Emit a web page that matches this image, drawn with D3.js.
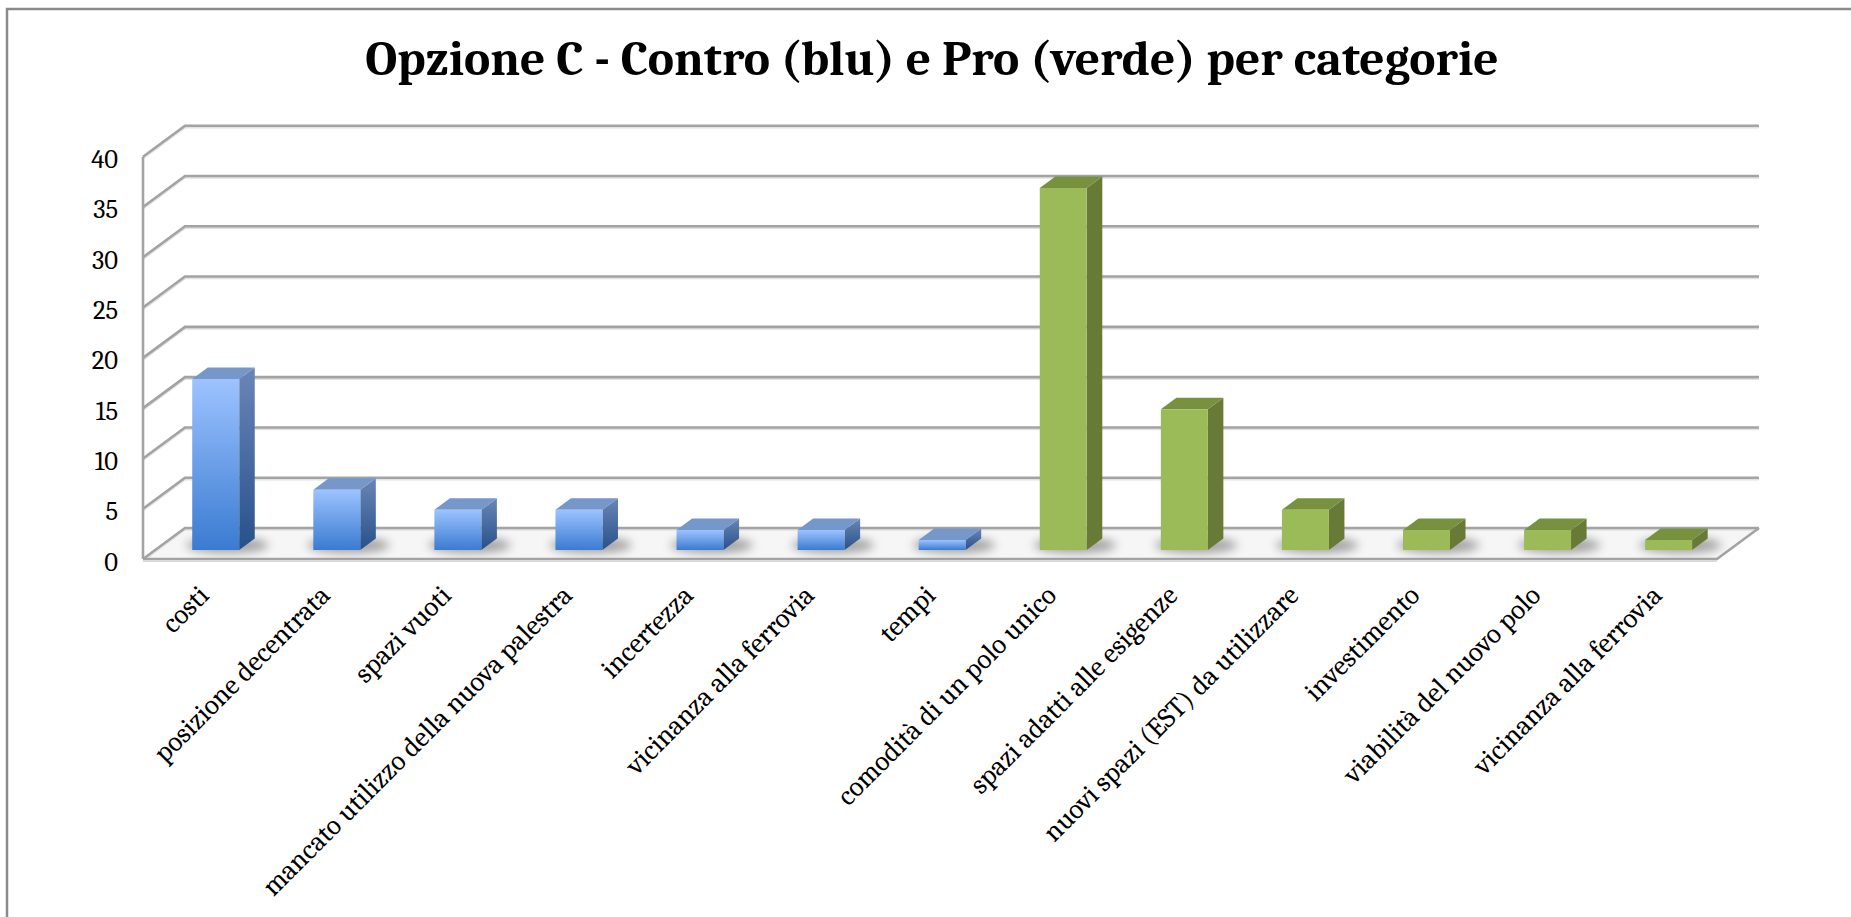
<!DOCTYPE html>
<html>
<head>
<meta charset="utf-8">
<script src="https://cdn.jsdelivr.net/npm/d3@7"></script>
<style>
  html, body { margin: 0; padding: 0; background: #fff; }
  svg { display: block; }
  text { font-family: Cambria, "Liberation Serif", "DejaVu Serif", serif; fill: #000; }
</style>
</head>
<body>
<svg id="chart" width="1851" height="917"></svg>
<script>
const title = "Opzione C - Contro (blu) e Pro (verde) per categorie";
const categories = [
  "costi", "posizione decentrata", "spazi vuoti", "mancato utilizzo della nuova palestra",
  "incertezza", "vicinanza alla ferrovia", "tempi",
  "comodità di un polo unico", "spazi adatti alle esigenze", "nuovi spazi (EST) da utilizzare",
  "investimento", "viabilità del nuovo polo", "vicinanza alla ferrovia "
];
const contro = [17, 6, 4, 4, 2, 2, 1, null, null, null, null, null, null];
const pro    = [null, null, null, null, null, null, null, 36, 14, 4, 2, 2, 1];
const yTicks = [0, 5, 10, 15, 20, 25, 30, 35, 40];

const svg = d3.select("#chart");
const W = 1851, H = 917;

// 3D projection parameters
const DX = 42, DY = -31;          // offset of the back plane
const Z0 = 0.29, Z1 = 0.66;       // bar depth range
const x = d3.scaleBand().domain(d3.range(categories.length)).range([143, 1717]);
const y = d3.scaleLinear().domain([0, 40]).range([559, 156.7]);
const proj = (px, v, z) => [px + z * DX, y(v) + z * DY];
const x0 = x.range()[0], x1 = x.range()[1];
const hw = x.bandwidth() * 0.194;

const defs = svg.append("defs");
const gBlueFront = defs.append("linearGradient").attr("id", "bf").attr("x1", 0).attr("y1", 0).attr("x2", 0).attr("y2", 1);
gBlueFront.append("stop").attr("offset", 0).attr("stop-color", "#9DC3FF");
gBlueFront.append("stop").attr("offset", 1).attr("stop-color", "#3A7BD1");
const gBlueSide = defs.append("linearGradient").attr("id", "bs").attr("x1", 0).attr("y1", 0).attr("x2", 0).attr("y2", 1);
gBlueSide.append("stop").attr("offset", 0).attr("stop-color", "#6A86B6");
gBlueSide.append("stop").attr("offset", 1).attr("stop-color", "#27518A");
const blur = defs.append("filter").attr("id", "blur").attr("x", "-50%").attr("y", "-50%").attr("width", "200%").attr("height", "200%");
blur.append("feGaussianBlur").attr("stdDeviation", 5);
const floorPts = [proj(x0, 0, 0), proj(x0, 0, 1), proj(x1, 0, 1), proj(x1, 0, 0)];
defs.append("clipPath").attr("id", "floorClip").append("polygon").attr("points", floorPts.map(p => p.join(",")).join(" "));

// chart border
svg.append("path").attr("d", `M7,${H} L7,9 L${W},9`).attr("fill", "none").attr("stroke", "#8a8a8a").attr("stroke-width", 2.5);

// title
svg.append("text").attr("x", 932).attr("y", 75).attr("text-anchor", "middle")
  .attr("font-size", 49.5).attr("font-weight", "bold").text(title);

// floor
svg.append("polygon").attr("points", floorPts.map(p => p.join(",")).join(" ")).attr("fill", "#f6f6f6");

// gridlines on walls
const line = d3.line();
const grid = svg.append("g");
yTicks.forEach(t => {
  const pts = [proj(x0, t, 0), proj(x0, t, 1), proj(x1, t, 1)];
  grid.append("path").attr("d", line(pts.map(p => [p[0], p[1] + 1.8]))).attr("fill", "none").attr("stroke", "#e2e2e2").attr("stroke-width", 2);
  grid.append("path").attr("d", line(pts)).attr("fill", "none").attr("stroke", "#a3a3a3").attr("stroke-width", 2.6);
});
// left vertical axis line
grid.append("path").attr("d", line([proj(x0, 0, 0), proj(x0, 40, 0)])).attr("stroke", "#a3a3a3").attr("stroke-width", 2.6);
// right floor edge and front edge
grid.append("path").attr("d", line([proj(x1, 0, 1), proj(x1, 0, 0), proj(x0, 0, 0)])).attr("fill", "none").attr("stroke", "#a3a3a3").attr("stroke-width", 2.6);
grid.append("path").attr("d", line([proj(x0, 0, 0), proj(x1, 0, 0)].map(p => [p[0], p[1] + 2]))).attr("fill", "none").attr("stroke", "#d9d9d9").attr("stroke-width", 2);

// shadows
const shadows = svg.append("g").attr("clip-path", "url(#floorClip)");
categories.forEach((c, i) => {
  const v = contro[i] != null ? contro[i] : pro[i];
  if (v == null) return;
  const cx = x(i) + x.bandwidth() / 2;
  const p = proj(cx, 0, (Z0 + Z1) / 2);
  shadows.append("ellipse").attr("cx", p[0] + 4).attr("cy", p[1] + 1).attr("rx", hw * 1.75).attr("ry", 8)
    .attr("fill", "#606060").attr("opacity", 0.55).attr("filter", "url(#blur)");
});

// bars
function drawBars(values, cls, front, side, top) {
  const g = svg.append("g").attr("class", cls);
  values.forEach((v, i) => {
    if (v == null) return;
    const cx = x(i) + x.bandwidth() / 2;
    const L = cx - hw, R = cx + hw;
    const f = [proj(L, v, Z0), proj(R, v, Z0), proj(R, 0, Z0), proj(L, 0, Z0)];
    const s = [proj(R, v, Z0), proj(R, v, Z1), proj(R, 0, Z1), proj(R, 0, Z0)];
    const t = [proj(L, v, Z0), proj(L, v, Z1), proj(R, v, Z1), proj(R, v, Z0)];
    g.append("polygon").attr("points", s.map(p => p.join(",")).join(" ")).attr("fill", side);
    g.append("polygon").attr("points", t.map(p => p.join(",")).join(" ")).attr("fill", top);
    g.append("polygon").attr("points", f.map(p => p.join(",")).join(" ")).attr("fill", front);
  });
}
drawBars(contro, "contro", "url(#bf)", "url(#bs)", "#7597C9");
drawBars(pro, "pro", "#9BBB59", "#677B37", "#77913F");

// y axis labels
const yAxis = svg.append("g");
yTicks.forEach(t => {
  yAxis.append("text").attr("x", 118).attr("y", y(t) + 3).attr("text-anchor", "end")
    .attr("dominant-baseline", "central").attr("font-size", 26.5).text(t);
});

// category labels
const xAxis = svg.append("g");
categories.forEach((c, i) => {
  const cx = x(i) + x.bandwidth() / 2 + 7;
  xAxis.append("text").attr("transform", `translate(${cx},597) rotate(-45)`)
    .attr("text-anchor", "end").attr("font-size", 28).text(c.trim());
});
</script>
</body>
</html>
